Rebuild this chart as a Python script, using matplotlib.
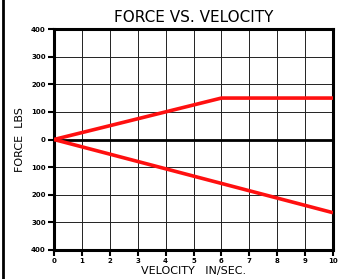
import matplotlib
matplotlib.use('Agg')
import matplotlib.pyplot as plt
from matplotlib.lines import Line2D

# data
upper_x = [0, 6, 10]
upper_y = [0, 150, 150]
lower_x = [0, 10]
lower_y = [0, -265]
x_ticks = list(range(0, 11))
y_ticks = [-400, -300, -200, -100, 0, 100, 200, 300, 400]
y_labels = ['400', '300', '200', '100', '0', '100', '200', '300', '400']

fig = plt.figure(figsize=(3.41, 2.79), dpi=100)
ax = fig.add_axes([54 / 341, 1 - 250 / 279, (333 - 54) / 341, (250 - 29) / 279])

ax.set_xlim(0, 10)
ax.set_ylim(-400, 400)
ax.set_xticks(x_ticks)
ax.set_yticks(y_ticks)
ax.set_xticklabels([str(t) for t in x_ticks], fontsize=5, fontweight='bold')
ax.set_yticklabels(y_labels, fontsize=5, fontweight='bold')
ax.tick_params(axis='both', length=4, width=1.5, color='black', pad=2)
ax.grid(True, color='#222222', linewidth=0.7)
ax.axhline(0, color='black', linewidth=2)

for s in ax.spines.values():
    s.set_linewidth(2.2)

ax.plot(upper_x, upper_y, color='#ff1010', linewidth=2.6, solid_capstyle='butt', zorder=5)
ax.plot(lower_x, lower_y, color='#ff1010', linewidth=2.6, solid_capstyle='butt', zorder=5)

ax.set_title('FORCE VS. VELOCITY', fontsize=11, color='black', pad=5)
ax.set_xlabel('VELOCITY   IN/SEC.', fontsize=8, labelpad=1)
ax.set_ylabel('FORCE  LBS', fontsize=8, labelpad=4)

# left border line of the scanned sheet
fig.add_artist(Line2D([3 / 341, 3 / 341], [0, 1], color='black', linewidth=2, transform=fig.transFigure))

fig.savefig('out.png', dpi=100)
